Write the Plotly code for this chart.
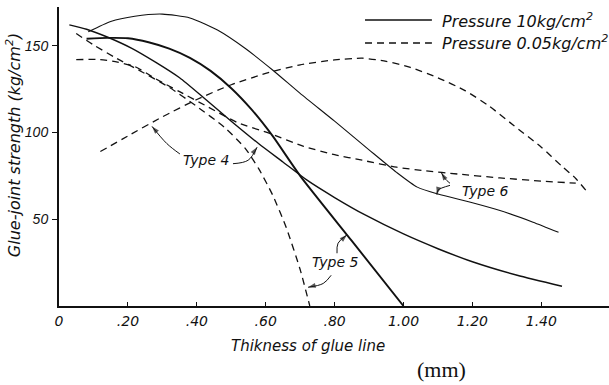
import plotly.graph_objects as go

# Glue-joint strength (kg/cm^2) against thickness of glue line (mm)
# Pressure 10 kg/cm^2 (solid lines)
t4_p10_x = [0.03, 0.08, 0.14, 0.21, 0.28, 0.35, 0.42, 0.50, 0.58, 0.65, 0.72, 0.80, 0.89, 1.00, 1.10, 1.20, 1.33, 1.46]
t4_p10_y = [162, 159.5, 155, 148.6, 140.5, 131.5, 120, 106.5, 93.5, 83, 72.5, 62.5, 52.3, 41.5, 33, 25.5, 17.7, 11.4]

t5_p10_x = [0.08, 0.14, 0.20, 0.26, 0.32, 0.38, 0.44, 0.50, 0.56, 0.62, 0.70, 0.85, 1.00]
t5_p10_y = [154, 154.5, 154.3, 152, 148.3, 143, 135.5, 125.5, 113, 98, 75, 37.5, 0]

t6_p10_x = [0.085, 0.15, 0.22, 0.30, 0.38, 0.46, 0.54, 0.62, 0.70, 0.80, 0.90, 0.98, 1.04,
            1.10, 1.20, 1.28, 1.376, 1.45]
t6_p10_y = [158, 164, 167, 168.2, 166, 159, 148.5, 136, 122.5, 106.5, 90, 77, 68.5,
            64.5, 59.5, 55, 48.3, 42.5]

# Pressure 0.05 kg/cm^2 (dashed lines)
t4_p005_x = [0.12, 0.20, 0.30, 0.40, 0.50, 0.60, 0.70, 0.80, 0.88, 0.95, 1.02, 1.10, 1.18, 1.25,
             1.32, 1.40, 1.46, 1.50, 1.53]
t4_p005_y = [89, 98, 109, 119, 127.5, 134, 139, 141.8, 142.8, 141, 137.5, 131.5, 124, 115,
             104, 91.5, 80.5, 73.5, 66.5]

t5_p005_x = [0.05, 0.10, 0.16, 0.24, 0.32, 0.40, 0.48, 0.54, 0.58, 0.62, 0.66, 0.70, 0.728]
t5_p005_y = [157, 150.5, 143.5, 135, 126, 115, 103, 91, 79, 64, 45, 21, 0]

t6_p005_x = [0.05, 0.12, 0.17, 0.22, 0.28, 0.35, 0.43, 0.52, 0.61, 0.71, 0.80, 0.88, 0.98,
             1.06, 1.16, 1.28, 1.40, 1.50]
t6_p005_y = [142, 142, 140.5, 138, 131, 123.5, 115, 105.5, 99.6, 92, 87.2, 84, 80,
             78, 76, 73.8, 72, 70.8]

x_ticks = [0, 0.2, 0.4, 0.6, 0.8, 1.0, 1.2, 1.4]
x_tick_labels = ["0", ".20", ".40", ".60", ".80", "1.00", "1.20", "1.40"]
y_ticks = [50, 100, 150]
y_tick_labels = ["50", "100", "150"]

# Curve labels and their pointer curves (start, bend, tip)
type_labels = ["Type 4", "Type 5", "Type 6"]
label_x = [0.427, 0.804, 1.239]
label_y = [84, 25.2, 66]
pointers = [
    ([0.351, 0.313, 0.27], [87.6, 93.6, 103.5]),
    ([0.505, 0.549, 0.575], [82, 84, 91.5]),
    ([0.807, 0.81, 0.836], [30.4, 36.2, 41]),
    ([0.79, 0.767, 0.723], [17.7, 13, 10.8]),
    ([1.135, 1.12, 1.11], [70.7, 73.5, 76.8]),
    ([1.135, 1.10, 1.097], [69.5, 66.7, 64.2]),
]

FONT = "DejaVu Sans"
NARROW = "Liberation Sans"
INK = "#111111"
DASH = "7px,5px"

fig = go.Figure()


def curve(xs, ys, dashed, width):
    fig.add_trace(go.Scatter(
        x=xs, y=ys, mode="lines",
        line=dict(color=INK, width=width, shape="spline", smoothing=0.6,
                  dash=DASH if dashed else "solid"),
        showlegend=False, hoverinfo="skip"))


curve(t6_p10_x, t6_p10_y, False, 1.1)
curve(t4_p10_x, t4_p10_y, False, 1.4)
curve(t5_p10_x, t5_p10_y, False, 1.9)
curve(t4_p005_x, t4_p005_y, True, 1.3)
curve(t5_p005_x, t5_p005_y, True, 1.3)
curve(t6_p005_x, t6_p005_y, True, 1.3)

# Pointer curves from each label to its lines, ending in an arrow tip
for px, py in pointers:
    fig.add_trace(go.Scatter(
        x=px, y=py, mode="lines+markers",
        line=dict(color=INK, width=1, shape="spline", smoothing=1.0),
        marker=dict(symbol="arrow", angleref="previous", size=[0, 0, 8],
                    color=INK, line=dict(width=0)),
        showlegend=False, hoverinfo="skip"))

for txt, lx, ly in zip(type_labels, label_x, label_y):
    fig.add_annotation(x=lx, y=ly, xref="x", yref="y", text=txt, showarrow=False,
                       xanchor="center", yanchor="middle",
                       font=dict(family=FONT, size=14, color=INK, style="italic"))

# Legend drawn as line samples with text
legend_items = [("solid", 0.9565, "Pressure 10kg/cm<sup>2</sup>"),
                (DASH, 0.8796, "Pressure 0.05kg/cm<sup>2</sup>")]
for dash, yy, txt in legend_items:
    fig.add_shape(type="line", xref="paper", yref="paper",
                  x0=0.5564, x1=0.678, y0=yy, y1=yy,
                  line=dict(color=INK, width=1.6, dash=dash))
    fig.add_annotation(x=0.6927, y=yy, xref="paper", yref="paper", text=txt,
                       xanchor="left", yanchor="middle", showarrow=False,
                       font=dict(family=FONT, size=16, color=INK, style="italic"))

# Axis titles
fig.add_annotation(x=-0.0836, y=0.538, xref="paper", yref="paper",
                   xanchor="center", yanchor="middle",
                   text="Glue-joint strength (kg/cm<sup>2</sup>)", textangle=-90,
                   showarrow=False,
                   font=dict(family=FONT, size=16, color=INK, style="italic"))
fig.add_annotation(x=0.4536, y=-0.1338, xref="paper", yref="paper",
                   xanchor="center", yanchor="middle",
                   text="Thikness of glue line", showarrow=False,
                   font=dict(family=FONT, size=15, color=INK, style="italic"))
fig.add_annotation(x=0.6955, y=-0.212, xref="paper", yref="paper",
                   xanchor="center", yanchor="middle",
                   text="(mm)", showarrow=False,
                   font=dict(family="Liberation Serif", size=22, color=INK, style="normal"))

fig.update_layout(
    width=609, height=385,
    margin=dict(l=59, r=0, t=7, b=79),
    paper_bgcolor="white", plot_bgcolor="white",
    font=dict(family=FONT, color=INK, style="italic"),
    xaxis=dict(range=[0, 1.5965], tickvals=x_ticks, ticktext=x_tick_labels,
               showgrid=False, zeroline=False, showline=True, linecolor=INK,
               linewidth=2, ticks="inside", ticklen=4, tickcolor=INK,
               ticklabelstandoff=1,
               tickfont=dict(family=FONT, size=14, color=INK, style="italic")),
    yaxis=dict(range=[0, 172.3], tickvals=y_ticks, ticktext=y_tick_labels,
               showgrid=False, zeroline=False, showline=True, linecolor=INK,
               linewidth=2, ticks="outside", ticklen=5, tickcolor=INK,
               ticklabelstandoff=1,
               tickfont=dict(family=NARROW, size=14, color=INK, style="italic")),
)

fig.write_html("out.html")
